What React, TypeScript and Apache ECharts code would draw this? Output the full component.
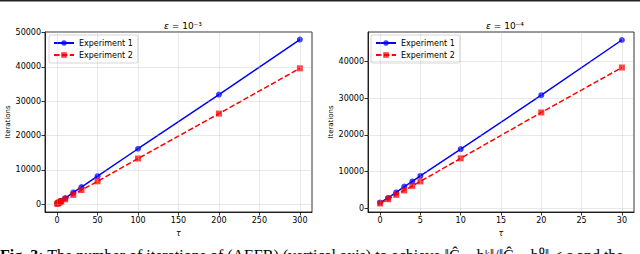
import { useEffect, useRef } from "react";
import * as echarts from "echarts";

const tauLeft = [0, 1, 2, 3, 4, 5, 10, 20, 30, 50, 100, 200, 300];
const exp1Left = [150, 320, 480, 650, 810, 970, 1750, 3400, 4950, 8150, 16150, 31950, 48000];
const exp2Left = [110, 250, 390, 530, 660, 800, 1420, 2700, 4100, 6650, 13300, 26400, 39600];

const tauRight = [0, 1, 2, 3, 4, 5, 10, 20, 30];
const exp1Right = [1550, 2800, 4300, 5900, 7300, 8800, 16100, 30800, 45850];
const exp2Right = [1300, 2450, 3650, 4850, 6100, 7300, 13600, 26100, 38350];

const xTicksLeft = [0, 50, 100, 150, 200, 250, 300];
const yTicksLeft = [0, 10000, 20000, 30000, 40000, 50000];
const xTicksRight = [0, 5, 10, 15, 20, 25, 30];
const yTicksRight = [0, 10000, 20000, 30000, 40000];

const titleLeft = "10⁻³";
const titleRight = "10⁻⁴";
const seriesNames = ["Experiment 1", "Experiment 2"];

const FONT = "DejaVu Sans";
const BLUE = "#0000ff";
const RED = "#ff0000";

function pairs(xs: number[], ys: number[]) {
  return xs.map((x, i) => [x, ys[i]]);
}

export default function App() {
  const ref = useRef<HTMLDivElement>(null);
  useEffect(() => {
    if (!ref.current) return;
    const chart = echarts.init(ref.current, null, { renderer: "svg" });

    const mkX = (idx: number, ticks: number[], min: number, max: number) => ({
      type: "value",
      gridIndex: idx,
      min,
      max,
      name: "τ",
      nameLocation: "middle",
      nameGap: 17,
      nameTextStyle: { fontFamily: FONT, fontSize: 8, color: "#000", fontStyle: "italic" },
      axisLine: { show: true, onZero: false, lineStyle: { color: "#000", width: 0.8 } },
      axisTick: { show: true, length: 3.5, customValues: ticks, lineStyle: { color: "#000", width: 0.8 } },
      axisLabel: { customValues: ticks, fontFamily: FONT, fontSize: 8, color: "#000", margin: 4, formatter: (v: number) => String(v) },
      splitLine: { show: false },
    });
    const mkY = (idx: number, ticks: number[], min: number, max: number, gap: number) => ({
      type: "value",
      gridIndex: idx,
      min,
      max,
      name: "Iterations",
      nameLocation: "middle",
      nameGap: gap,
      nameRotate: 90,
      nameTextStyle: { fontFamily: FONT, fontSize: 7, color: "#000" },
      axisLine: { show: true, onZero: false, lineStyle: { color: "#000", width: 0.8 } },
      axisTick: { show: true, length: 3.5, customValues: ticks, lineStyle: { color: "#000", width: 0.8 } },
      axisLabel: { customValues: ticks, fontFamily: FONT, fontSize: 8, color: "#000", margin: 4, formatter: (v: number) => String(v) },
      splitLine: { show: false },
    });

    const gridLines = (xt: number[], yt: number[]) => ({
      silent: true,
      symbol: "none",
      label: { show: false },
      lineStyle: { color: "#b0b0b0", opacity: 0.35, type: "solid", width: 0.8 },
      data: [...xt.map((v) => ({ xAxis: v })), ...yt.map((v) => ({ yAxis: v }))],
    });

    const mkSeries = (name: string, idx: number, data: number[][], color: string, dashed: boolean, ml?: any) => ({
      type: "line",
      name,
      xAxisIndex: idx,
      yAxisIndex: idx,
      data,
      symbol: dashed ? "rect" : "circle",
      symbolSize: 6,
      showAllSymbol: true,
      lineStyle: { color, width: 1.5, type: dashed ? [5.5, 2.4] : "solid" },
      itemStyle: { color, opacity: 0.75 },
      emphasis: { disabled: true },
      z: dashed ? 3 : 2,
      ...(ml ? { markLine: ml } : {}),
    });

    const mkLegend = (left: number) => ({
      left,
      top: 35,
      orient: "vertical",
      data: seriesNames,
      itemWidth: 20,
      itemHeight: 7,
      itemGap: 4,
      padding: [4, 5, 4, 4],
      backgroundColor: "rgba(255,255,255,0.8)",
      borderColor: "#cccccc",
      borderWidth: 0.8,
      borderRadius: 2,
      textStyle: { fontFamily: FONT, fontSize: 8, color: "#000", padding: [0, 0, 0, 0] },
      selectedMode: false,
    });

    chart.setOption({
      animation: false,
      backgroundColor: "#fff",
      title: [
        {
          text: "{e|ε} = " + titleLeft,
          left: 178,
          top: 16,
          textAlign: "center",
          textStyle: {
            fontFamily: FONT, fontSize: 9, fontWeight: "normal", color: "#000",
            rich: { e: { fontFamily: FONT, fontSize: 9, fontStyle: "italic", color: "#000" } },
          },
        },
        {
          text: "{e|ε} = " + titleRight,
          left: 500,
          top: 16,
          textAlign: "center",
          textStyle: {
            fontFamily: FONT, fontSize: 9, fontWeight: "normal", color: "#000",
            rich: { e: { fontFamily: FONT, fontSize: 9, fontStyle: "italic", color: "#000" } },
          },
        },
      ],
      legend: [mkLegend(49), mkLegend(371)],
      grid: [
        { left: 45, top: 32, right: 328, bottom: 42, show: true, borderColor: "#000", borderWidth: 0.8, containLabel: false },
        { left: 368, top: 32, right: 6, bottom: 42, show: true, borderColor: "#000", borderWidth: 0.8, containLabel: false },
      ],
      xAxis: [mkX(0, xTicksLeft, -15, 315), mkX(1, xTicksRight, -1.5, 31.5)],
      yAxis: [mkY(0, yTicksLeft, -2295, 50195, 30), mkY(1, yTicksRight, -1030, 48030, 33)],
      series: [
        mkSeries(seriesNames[0], 0, pairs(tauLeft, exp1Left), BLUE, false, gridLines(xTicksLeft, yTicksLeft)),
        mkSeries(seriesNames[1], 0, pairs(tauLeft, exp2Left), RED, true),
        mkSeries(seriesNames[0], 1, pairs(tauRight, exp1Right), BLUE, false, gridLines(xTicksRight, yTicksRight)),
        mkSeries(seriesNames[1], 1, pairs(tauRight, exp2Right), RED, true),
      ],
      graphic: [
        { type: "rect", left: 0, top: 0, shape: { width: 640, height: 1.5 }, style: { fill: "#222" } },
        {
          type: "text",
          left: 0,
          top: 247,
          style: {
            text: "{b|Fig. 3:} The number of iterations of (AEFB) (vertical axis) to achieve ‖Ĉ − bᵏ‖/‖Ĉ − b⁰‖ ≤ ε and the",
            fontFamily: "Liberation Serif",
            fontSize: 16,
            fill: "#000",
            rich: { b: { fontFamily: "Liberation Serif", fontSize: 16, fontWeight: "bold", fill: "#000" } },
          },
        },
      ],
    });
    return () => chart.dispose();
  }, []);
  return <div ref={ref} style={{ width: 640, height: 254, position: "absolute", left: 0, top: 0 }} />;
}
